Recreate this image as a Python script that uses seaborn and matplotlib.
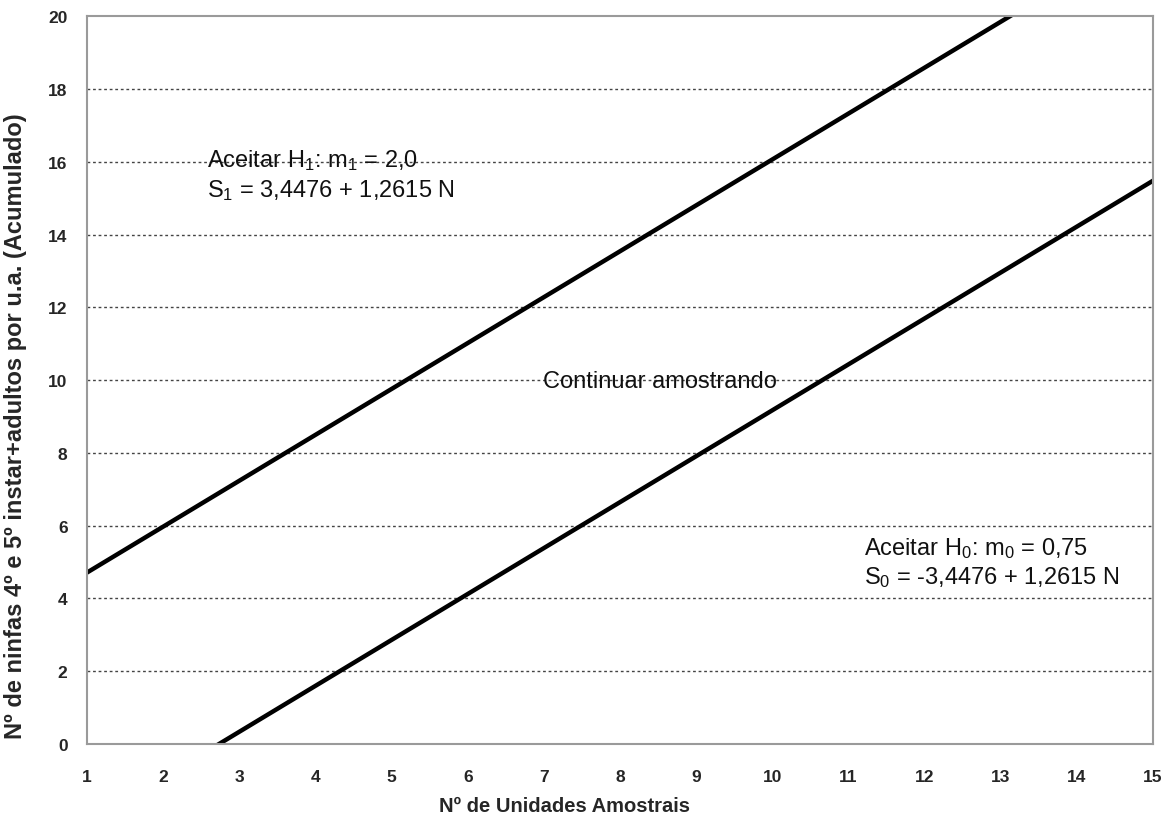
import numpy as np
import pandas as pd
import matplotlib
matplotlib.use('Agg')
from matplotlib import pyplot as plt
import seaborn as sns

# end points of the two decision lines
n_units = [1, 15]
s1_vals = [4.71, 22.37]    # upper line (aceitar H1)
s0_vals = [-2.19, 15.48]   # lower line (aceitar H0)
x_ticks = list(range(1, 16))
y_ticks = list(range(0, 21, 2))

sns.set_style('white')
plt.rcParams['font.family'] = ['Liberation Sans', 'DejaVu Sans']
plt.rcParams['mathtext.fontset'] = 'custom'
plt.rcParams['mathtext.rm'] = 'Liberation Sans'
plt.rcParams['mathtext.it'] = 'Liberation Sans'

df = pd.DataFrame({'N': n_units * 2,
                   'S': s1_vals + s0_vals,
                   'linha': ['S1'] * 2 + ['S0'] * 2})

fig = plt.figure(figsize=(11.72, 8.2), dpi=100)
ax = fig.add_axes([0.0742, 0.0915, 0.9096, 0.8875])

sns.lineplot(data=df, x='N', y='S', units='linha', estimator=None,
             color='black', linewidth=3.2, ax=ax)

ax.set_xlim(1, 15)
ax.set_ylim(0, 20)
ax.set_xticks(x_ticks)
ax.set_yticks(y_ticks)
for y in y_ticks[1:-1]:
    ax.axhline(y, color='#444444', linestyle=(0, (2, 2)), linewidth=1.0, zorder=0)

for s in ax.spines.values():
    s.set_color('#9a9a9a')
    s.set_linewidth(1.5)

ax.tick_params(axis='x', direction='in', length=4, color='#9a9a9a', pad=18,
               labelsize=12.5)
ax.tick_params(axis='y', length=0, pad=14, labelsize=12.5)
for lbl in ax.get_xticklabels() + ax.get_yticklabels():
    lbl.set_fontweight('bold')

ax.set_xlabel('Nº de Unidades Amostrais', fontsize=14.5, fontweight='bold')
ax.set_ylabel('Nº de ninfas 4º e 5º instar+adultos por u.a. (Acumulado)',
              fontsize=17, fontweight='bold')
ax.xaxis.set_label_coords(0.448, -0.0714)
ax.yaxis.set_label_coords(-0.056, 0.438)

txt = dict(fontsize=17, color='#111111', va='center', ha='left')
ax.text(2.58, 16.07, r'Aceitar H$_1$: m$_1$ = 2,0', **txt)
ax.text(2.58, 15.25, r'S$_1$ = 3,4476 + 1,2615 N', **txt)
ax.text(8.53, 9.97, 'Continuar amostrando', fontsize=17, color='#111111',
        va='center', ha='center')
ax.text(11.2, 5.41, r'Aceitar H$_0$: m$_0$ = 0,75', **txt)
ax.text(11.2, 4.59, r'S$_0$ = -3,4476 + 1,2615 N', **txt)

fig.savefig('out.png', dpi=100, facecolor='white')
